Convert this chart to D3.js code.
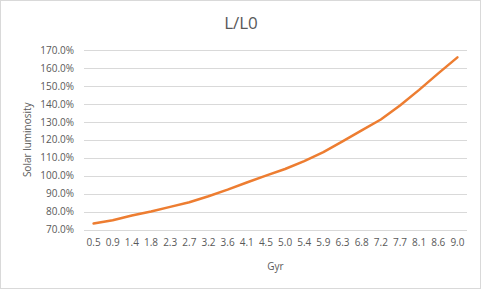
<!DOCTYPE html>
<html>
<head>
<meta charset="utf-8">
<script src="https://cdn.jsdelivr.net/npm/d3@7/dist/d3.min.js"></script>
<style>
  html, body { margin: 0; padding: 0; background: #fff; }
  svg { display: block; }
  text { font-family: "Open Sans", "Liberation Sans", sans-serif; fill: #595959; }
</style>
</head>
<body>
<svg id="chart" width="481" height="289"></svg>
<script>
const categories = ["0.5","0.9","1.4","1.8","2.3","2.7","3.2","3.6","4.1","4.5","5.0","5.4","5.9","6.3","6.8","7.2","7.7","8.1","8.6","9.0"];
const luminosity = [0.733,0.752,0.778,0.800,0.826,0.852,0.885,0.922,0.962,1.000,1.037,1.081,1.131,1.191,1.252,1.313,1.391,1.478,1.570,1.659];
const yTicks = [0.7,0.8,0.9,1.0,1.1,1.2,1.3,1.4,1.5,1.6,1.7];
const title = "L/L0";
const xTitle = "Gyr";
const yTitle = "Solar luminosity";

const W = 481, H = 289;
const margin = {left: 84, right: 14, top: 50, bottom: 59.5};
const svg = d3.select("#chart");

svg.append("rect").attr("x",0.5).attr("y",0.5).attr("width",W-1).attr("height",H-1)
  .attr("fill","#fff").attr("stroke","#d9d9d9").attr("stroke-width",1);

const x = d3.scaleBand().domain(categories).range([margin.left, W - margin.right]);
const y = d3.scaleLinear().domain([0.7, 1.7]).range([H - margin.bottom, margin.top]);

// gridlines
svg.append("g").selectAll("line").data(yTicks).join("line")
  .attr("x1", margin.left).attr("x2", W - margin.right)
  .attr("y1", d => Math.round(y(d)) + 0.5).attr("y2", d => Math.round(y(d)) + 0.5)
  .attr("stroke", "#d9d9d9").attr("stroke-width", 1);

// y axis
const yAxis = d3.axisLeft(y).tickValues(yTicks).tickFormat(d3.format(".1%")).tickSize(0).tickPadding(10);
const gy = svg.append("g").attr("transform", `translate(${margin.left},0)`).call(yAxis);
gy.select(".domain").remove();
gy.selectAll("text").style("font-size","10px").attr("fill","#595959");

// x axis
const xAxis = d3.axisBottom(x).tickSize(0).tickPadding(9);
const gx = svg.append("g").attr("transform", `translate(0,${H - margin.bottom})`).call(xAxis);
gx.select(".domain").remove();
gx.selectAll("text").style("font-size","10px").attr("fill","#595959");

// line
const line = d3.line()
  .x((d, i) => x(categories[i]) + x.bandwidth() / 2)
  .y(d => y(d));
svg.append("path").datum(luminosity)
  .attr("d", line).attr("fill","none")
  .attr("stroke","#ed7d31").attr("stroke-width",2.5)
  .attr("stroke-linecap","round").attr("stroke-linejoin","round");

// titles
svg.append("text").attr("x", 241).attr("y", 29).attr("text-anchor","middle")
  .style("font-size","17px").text(title);
svg.append("text").attr("x", (margin.left + W - margin.right)/2).attr("y", 270)
  .attr("text-anchor","middle").style("font-size","10px").text(xTitle);
svg.append("text").attr("transform", `translate(31,${(margin.top + H - margin.bottom)/2}) rotate(-90)`)
  .attr("text-anchor","middle").style("font-size","10px").text(yTitle);
</script>
</body>
</html>
